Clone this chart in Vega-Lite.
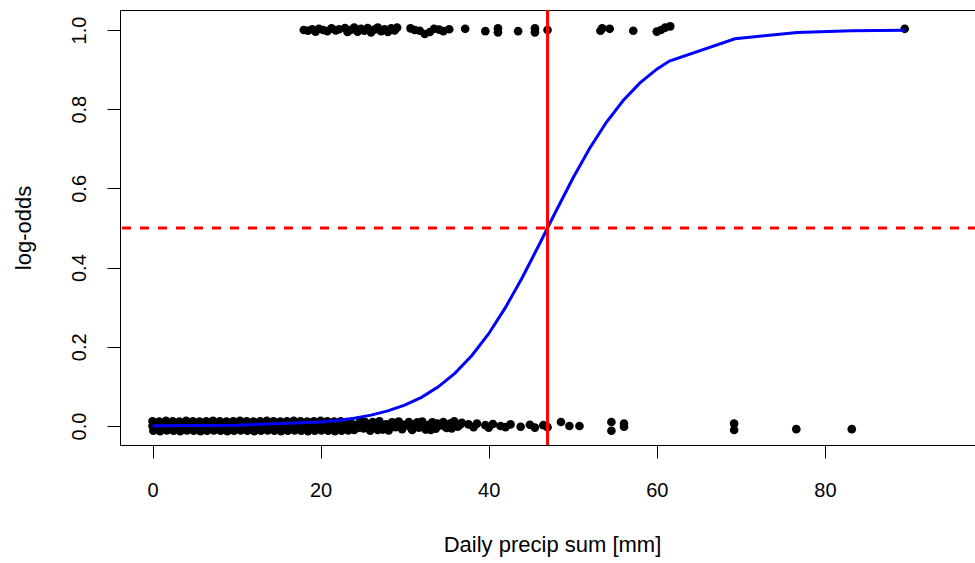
{
  "$schema": "https://vega.github.io/schema/vega-lite/v6.json",
  "autosize": {"type": "none"},
  "width": 857,
  "height": 435,
  "padding": {"left": 120, "top": 10, "right": 0, "bottom": 118},
  "background": "white",
  "config": {
    "view": {"stroke": "black", "strokeWidth": 1},
    "axis": {
      "domain": false,
      "grid": false,
      "tickColor": "black",
      "tickSize": 13,
      "labelFont": "Liberation Sans",
      "labelFontSize": 20,
      "labelColor": "black",
      "titleFont": "Liberation Sans",
      "titleFontSize": 22,
      "titleFontWeight": "normal",
      "titleColor": "black"
    }
  },
  "datasets": {
    "pts": [
      {"x": 0.0, "y": 0.012}, {"x": 0.8, "y": 0.011}, {"x": 1.6, "y": 0.013}, {"x": 2.4, "y": 0.012}, {"x": 3.2, "y": 0.011},
      {"x": 4.0, "y": 0.013}, {"x": 4.8, "y": 0.012}, {"x": 5.6, "y": 0.011}, {"x": 6.4, "y": 0.012}, {"x": 7.2, "y": 0.013},
      {"x": 8.0, "y": 0.012}, {"x": 8.8, "y": 0.011}, {"x": 9.6, "y": 0.012}, {"x": 10.4, "y": 0.013}, {"x": 11.2, "y": 0.012},
      {"x": 12.0, "y": 0.011}, {"x": 12.8, "y": 0.012}, {"x": 13.6, "y": 0.013}, {"x": 14.4, "y": 0.012}, {"x": 15.2, "y": 0.011},
      {"x": 16.0, "y": 0.012}, {"x": 16.8, "y": 0.013}, {"x": 17.6, "y": 0.012}, {"x": 18.4, "y": 0.011}, {"x": 19.2, "y": 0.012},
      {"x": 20.0, "y": 0.013}, {"x": 20.8, "y": 0.012}, {"x": 21.6, "y": 0.011}, {"x": 22.4, "y": 0.012}, {"x": 23.2, "y": 0.010},
      {"x": 0.0, "y": 0.0}, {"x": 0.4, "y": 0.001}, {"x": 1.2, "y": -0.001}, {"x": 2.0, "y": 0.0}, {"x": 2.8, "y": 0.001},
      {"x": 3.6, "y": -0.001}, {"x": 4.4, "y": 0.0}, {"x": 5.2, "y": 0.001}, {"x": 6.0, "y": -0.001}, {"x": 6.8, "y": 0.0},
      {"x": 7.6, "y": 0.001}, {"x": 8.4, "y": -0.001}, {"x": 9.2, "y": 0.0}, {"x": 10.0, "y": 0.001}, {"x": 10.8, "y": -0.001},
      {"x": 11.6, "y": 0.0}, {"x": 12.4, "y": 0.001}, {"x": 13.2, "y": -0.001}, {"x": 14.0, "y": 0.0}, {"x": 14.8, "y": 0.001},
      {"x": 15.6, "y": -0.001}, {"x": 16.4, "y": 0.0}, {"x": 17.2, "y": 0.001}, {"x": 18.0, "y": -0.001}, {"x": 18.8, "y": 0.0},
      {"x": 19.6, "y": 0.001}, {"x": 20.4, "y": -0.001}, {"x": 21.2, "y": 0.0}, {"x": 22.0, "y": 0.001}, {"x": 22.8, "y": -0.001},
      {"x": 0.1, "y": -0.012}, {"x": 0.9, "y": -0.013}, {"x": 1.7, "y": -0.011}, {"x": 2.5, "y": -0.012}, {"x": 3.3, "y": -0.013},
      {"x": 4.1, "y": -0.011}, {"x": 4.9, "y": -0.012}, {"x": 5.7, "y": -0.013}, {"x": 6.5, "y": -0.012}, {"x": 7.3, "y": -0.011},
      {"x": 8.1, "y": -0.012}, {"x": 8.9, "y": -0.013}, {"x": 9.7, "y": -0.012}, {"x": 10.5, "y": -0.011}, {"x": 11.3, "y": -0.012},
      {"x": 12.1, "y": -0.013}, {"x": 12.9, "y": -0.012}, {"x": 13.7, "y": -0.011}, {"x": 14.5, "y": -0.012}, {"x": 15.3, "y": -0.013},
      {"x": 16.1, "y": -0.012}, {"x": 16.9, "y": -0.011}, {"x": 17.7, "y": -0.012}, {"x": 18.5, "y": -0.013}, {"x": 19.3, "y": -0.012},
      {"x": 20.1, "y": -0.011}, {"x": 20.9, "y": -0.012}, {"x": 21.7, "y": -0.013}, {"x": 22.5, "y": -0.012}, {"x": 23.3, "y": -0.011},
      {"x": 23.6, "y": 0.008}, {"x": 24.0, "y": -0.010}, {"x": 24.3, "y": 0.003}, {"x": 24.7, "y": 0.011}, {"x": 25.1, "y": -0.006},
      {"x": 25.5, "y": 0.005}, {"x": 25.9, "y": -0.012}, {"x": 26.2, "y": 0.010}, {"x": 26.6, "y": -0.002}, {"x": 27.0, "y": 0.012},
      {"x": 27.4, "y": -0.009}, {"x": 27.8, "y": 0.004}, {"x": 28.1, "y": -0.011}, {"x": 28.5, "y": 0.009}, {"x": 28.9, "y": -0.003},
      {"x": 29.3, "y": 0.011}, {"x": 29.7, "y": -0.008}, {"x": 30.1, "y": 0.002}, {"x": 30.5, "y": 0.010}, {"x": 30.9, "y": -0.010},
      {"x": 31.3, "y": 0.005}, {"x": 31.7, "y": -0.004}, {"x": 32.1, "y": 0.011}, {"x": 32.5, "y": -0.009}, {"x": 32.9, "y": 0.003},
      {"x": 33.3, "y": 0.009}, {"x": 33.7, "y": -0.007}, {"x": 34.1, "y": 0.001}, {"x": 34.6, "y": 0.010}, {"x": 35.0, "y": -0.005},
      {"x": 35.4, "y": 0.006}, {"x": 35.9, "y": 0.012}, {"x": 36.3, "y": -0.002}, {"x": 36.8, "y": 0.008},
      {"x": 23.9, "y": 0.002}, {"x": 24.5, "y": -0.004}, {"x": 25.3, "y": 0.010}, {"x": 26.0, "y": 0.001}, {"x": 26.8, "y": -0.010},
      {"x": 27.6, "y": 0.000}, {"x": 28.3, "y": 0.002}, {"x": 29.0, "y": 0.008}, {"x": 29.9, "y": 0.003}, {"x": 30.7, "y": -0.003},
      {"x": 31.5, "y": 0.009}, {"x": 32.3, "y": 0.000}, {"x": 33.1, "y": -0.010}, {"x": 33.9, "y": 0.006}, {"x": 34.8, "y": -0.002},
      {"x": 35.6, "y": -0.006}, {"x": 36.6, "y": 0.003},
      {"x": 37.6, "y": 0.004}, {"x": 38.2, "y": -0.003}, {"x": 38.6, "y": 0.006}, {"x": 39.6, "y": 0.002}, {"x": 40.0, "y": -0.004},
      {"x": 40.5, "y": 0.005}, {"x": 41.4, "y": 0.0}, {"x": 42.0, "y": -0.003}, {"x": 42.6, "y": 0.004}, {"x": 43.8, "y": -0.002},
      {"x": 44.9, "y": 0.003}, {"x": 45.5, "y": -0.004}, {"x": 46.5, "y": 0.002}, {"x": 47.0, "y": -0.003},
      {"x": 48.6, "y": 0.010}, {"x": 49.6, "y": 0.0}, {"x": 50.8, "y": 0.0}, {"x": 54.6, "y": 0.010}, {"x": 54.6, "y": -0.012},
      {"x": 56.1, "y": 0.006}, {"x": 56.1, "y": -0.002}, {"x": 69.2, "y": 0.006}, {"x": 69.2, "y": -0.010}, {"x": 76.6, "y": -0.008},
      {"x": 83.2, "y": -0.008},
      {"x": 18.0, "y": 1.0}, {"x": 18.5, "y": 0.998}, {"x": 19.0, "y": 1.002}, {"x": 19.4, "y": 0.996}, {"x": 19.8, "y": 1.003},
      {"x": 20.3, "y": 1.0}, {"x": 20.8, "y": 0.997}, {"x": 21.3, "y": 1.004}, {"x": 21.8, "y": 0.999}, {"x": 22.2, "y": 1.002},
      {"x": 22.9, "y": 1.005}, {"x": 23.2, "y": 0.995}, {"x": 23.6, "y": 1.0}, {"x": 24.0, "y": 1.006}, {"x": 24.4, "y": 0.996},
      {"x": 24.8, "y": 1.003}, {"x": 25.2, "y": 0.998}, {"x": 25.6, "y": 1.005}, {"x": 26.0, "y": 0.994}, {"x": 26.4, "y": 1.001},
      {"x": 26.8, "y": 1.006}, {"x": 27.2, "y": 0.997}, {"x": 27.6, "y": 1.002}, {"x": 28.0, "y": 0.995}, {"x": 28.4, "y": 1.004},
      {"x": 28.8, "y": 0.999}, {"x": 29.1, "y": 1.006}, {"x": 30.7, "y": 1.004}, {"x": 31.2, "y": 1.0}, {"x": 31.8, "y": 0.998},
      {"x": 32.4, "y": 0.99}, {"x": 33.0, "y": 0.995}, {"x": 33.5, "y": 1.003}, {"x": 34.1, "y": 1.001}, {"x": 34.6, "y": 0.997},
      {"x": 35.3, "y": 1.002}, {"x": 37.2, "y": 1.003}, {"x": 39.6, "y": 0.997}, {"x": 41.1, "y": 1.004}, {"x": 41.1, "y": 0.994},
      {"x": 43.5, "y": 0.997}, {"x": 45.5, "y": 1.004}, {"x": 45.5, "y": 0.994}, {"x": 47.0, "y": 1.0}, {"x": 53.3, "y": 0.998},
      {"x": 53.5, "y": 1.004}, {"x": 54.4, "y": 1.003}, {"x": 57.2, "y": 0.998}, {"x": 60.0, "y": 0.996}, {"x": 60.5, "y": 1.0},
      {"x": 61.0, "y": 1.006}, {"x": 61.6, "y": 1.009}, {"x": 89.5, "y": 1.003}
    ],
    "curve": [
      {"x": 0, "y": 0.00034}, {"x": 10, "y": 0.00186}, {"x": 20, "y": 0.0101}, {"x": 22, "y": 0.0141},
      {"x": 24, "y": 0.0196}, {"x": 26, "y": 0.0274}, {"x": 28, "y": 0.0381}, {"x": 30, "y": 0.0527},
      {"x": 32, "y": 0.0724}, {"x": 34, "y": 0.0989}, {"x": 36, "y": 0.1336}, {"x": 38, "y": 0.178},
      {"x": 40, "y": 0.233}, {"x": 42, "y": 0.2994}, {"x": 44, "y": 0.3752}, {"x": 46, "y": 0.4576},
      {"x": 47, "y": 0.5}, {"x": 48, "y": 0.5424}, {"x": 50, "y": 0.6248}, {"x": 52, "y": 0.7006},
      {"x": 54, "y": 0.767}, {"x": 56, "y": 0.822}, {"x": 58, "y": 0.8664}, {"x": 60, "y": 0.9011},
      {"x": 61.5, "y": 0.9217}, {"x": 69.3, "y": 0.9779}, {"x": 76.7, "y": 0.9936}, {"x": 83.2, "y": 0.9979},
      {"x": 89.5, "y": 0.99927}
    ],
    "vline": [{"x": 47.0}],
    "hline": [{"y": 0.5}]
  },
  "layer": [
    {
      "data": {"name": "pts"},
      "mark": {"type": "circle", "size": 75, "color": "black", "opacity": 1},
      "encoding": {
        "x": {
          "field": "x", "type": "quantitative",
          "scale": {"domain": [-3.87, 98.1], "nice": false, "zero": false},
          "axis": {"values": [0, 20, 40, 60, 80], "title": "Daily precip sum [mm]", "labelPadding": 22, "titlePadding": 34, "titleX": 432}
        },
        "y": {
          "field": "y", "type": "quantitative",
          "scale": {"domain": [-0.048, 1.0505], "nice": false, "zero": false},
          "axis": {"values": [0, 0.2, 0.4, 0.6, 0.8, 1.0], "format": ".1f", "title": "log-odds", "labelAngle": -90, "labelAlign": "center", "labelBaseline": "bottom", "labelPadding": 18, "titlePadding": 34}
        }
      }
    },
    {
      "data": {"name": "curve"},
      "mark": {"type": "line", "color": "#0000FF", "strokeWidth": 3, "clip": true},
      "encoding": {
        "x": {"field": "x", "type": "quantitative"},
        "y": {"field": "y", "type": "quantitative"}
      }
    },
    {
      "data": {"name": "vline"},
      "mark": {"type": "rule", "color": "#FF0000", "strokeWidth": 3},
      "encoding": {"x": {"field": "x", "type": "quantitative"}}
    },
    {
      "data": {"name": "hline"},
      "mark": {"type": "rule", "color": "#FF0000", "strokeWidth": 3, "strokeDash": [9, 9]},
      "encoding": {"y": {"field": "y", "type": "quantitative"}}
    }
  ]
}
